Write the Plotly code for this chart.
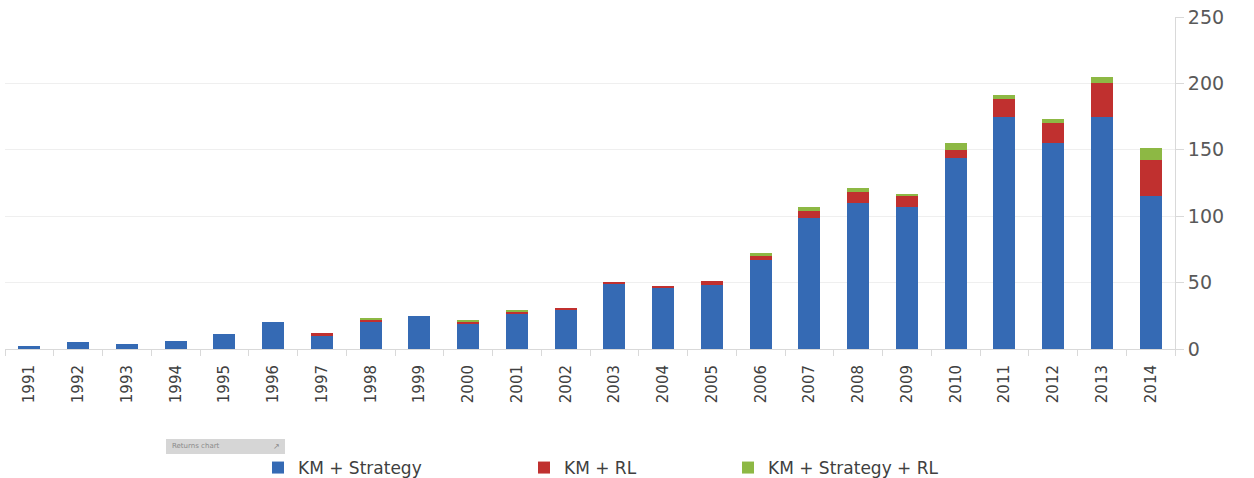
import plotly.graph_objects as go

years = [str(y) for y in range(1991, 2015)]
km_strategy = [2, 5, 4, 6, 11, 20, 10, 20, 25, 19, 27, 29, 49, 46, 48, 67, 99, 110, 107, 144, 175, 155, 175, 115]
km_rl =       [0, 0, 0, 0, 0, 0, 2, 2, 0, 2, 1, 2, 1, 1, 3, 3, 5, 8, 8, 6, 13, 15, 25, 27]
km_strat_rl = [0, 0, 0, 0, 0, 0, 0, 1, 0, 1, 1, 0, 0, 0, 0, 2, 3, 3, 2, 5, 3, 3, 5, 9]

names = ["KM + Strategy", "KM + RL", "KM + Strategy + RL"]
colors = ["#356AB4", "#C0302F", "#8DB844"]
series = [km_strategy, km_rl, km_strat_rl]
legend_ids = ["legend", "legend2", "legend3"]

# plot area in pixels
L, R, T, B = 5, 1175, 17, 349
W, H = 1254, 478

def px2x(px):
    return (px - L) / (R - L)

def py2y(py):
    return (B - py) / (B - T)

fig = go.Figure()
for name, col, vals, lg in zip(names, colors, series, legend_ids):
    fig.add_trace(go.Bar(
        x=years, y=vals, name=name, legend=lg,
        marker=dict(color=col, line=dict(width=0)),
        width=0.45,
    ))

legend_font = dict(family="DejaVu Sans", size=17, color="#404040")
leg_common = dict(orientation="h", yanchor="bottom", xanchor="left",
                  font=legend_font, bgcolor="rgba(0,0,0,0)", borderwidth=0,
                  itemwidth=30)

fig.update_layout(
    width=W, height=H,
    margin=dict(l=L, r=W - R, t=T, b=H - B, autoexpand=False),
    paper_bgcolor="white", plot_bgcolor="white",
    barmode="stack",
    showlegend=True,
    legend=dict(x=px2x(258), y=py2y(486), **leg_common),
    legend2=dict(x=px2x(524), y=py2y(486), **leg_common),
    legend3=dict(x=px2x(728), y=py2y(486), **leg_common),
    xaxis=dict(
        type="category",
        tickangle=-90,
        tickfont=dict(family="DejaVu Sans", size=15, color="#404040"),
        showline=True, linecolor="#d9d9d9", linewidth=1,
        ticks="outside", tickson="boundaries", ticklen=6, tickcolor="#d9d9d9",
        ticklabelstandoff=9,
        showgrid=False, automargin=False,
    ),
    yaxis=dict(
        side="right",
        range=[0, 250],
        tickvals=[0, 50, 100, 150, 200, 250],
        tickfont=dict(family="DejaVu Sans", size=19, color="#595959"),
        showline=True, linecolor="#d9d9d9", linewidth=1,
        ticks="outside", ticklen=8, tickcolor="#d9d9d9",
        showgrid=True, gridcolor="#efefef", gridwidth=1,
        zeroline=False, automargin=False,
    ),
    shapes=[dict(
        type="rect", xref="paper", yref="paper",
        x0=px2x(166), x1=px2x(285), y0=py2y(454), y1=py2y(439),
        fillcolor="#d6d6d6", line=dict(width=0),
    )],
    annotations=[dict(
        text="Returns chart", xref="paper", yref="paper",
        x=px2x(170), y=py2y(446.5), xanchor="left", yanchor="middle",
        showarrow=False, font=dict(family="DejaVu Sans", size=7, color="#8a8a8a"),
    ), dict(
        text="↗", xref="paper", yref="paper",
        x=px2x(282), y=py2y(446.5), xanchor="right", yanchor="middle",
        showarrow=False, font=dict(family="DejaVu Sans", size=8, color="#8a8a8a"),
    )],
)

fig.write_html("out.html")
